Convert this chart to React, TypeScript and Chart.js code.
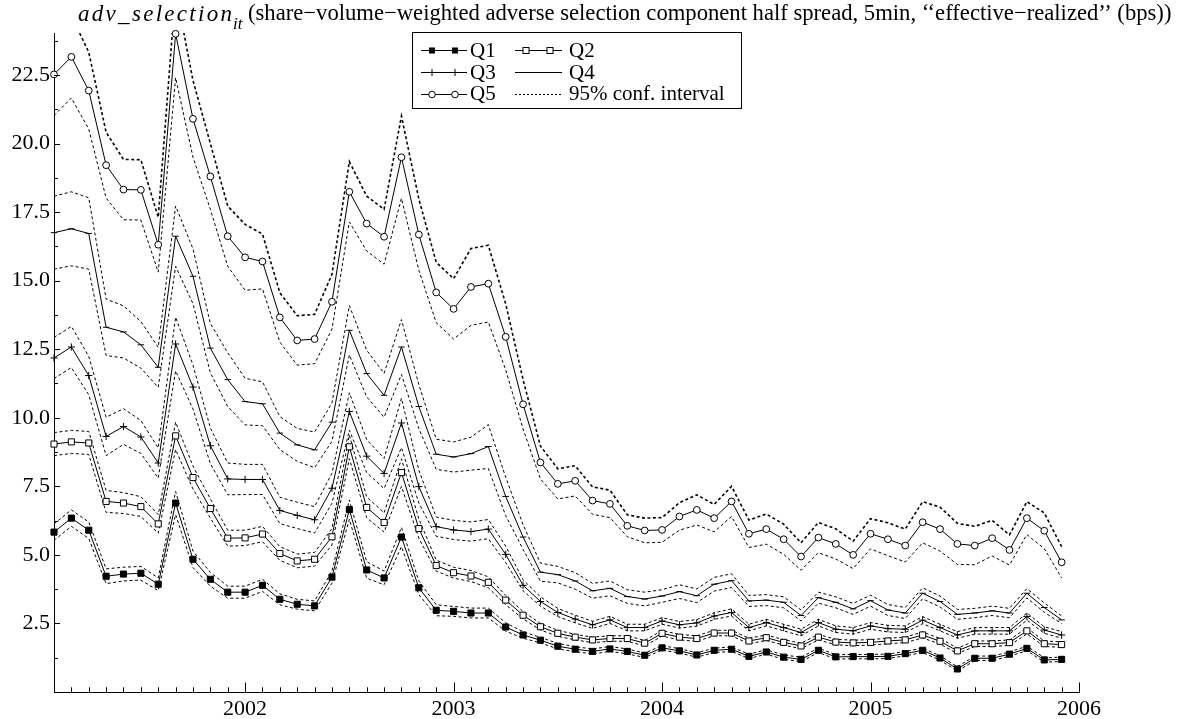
import React, { useEffect, useRef } from 'react';
import { Chart, registerables } from 'chart.js';

Chart.register(...registerables);

// Monthly categories, Feb 2001 .. Jan 2006 (last one carries no data, it ends the axis)
const months = [
  '2001-02','2001-03','2001-04','2001-05','2001-06','2001-07','2001-08','2001-09','2001-10','2001-11','2001-12',
  '2002-01','2002-02','2002-03','2002-04','2002-05','2002-06','2002-07','2002-08','2002-09','2002-10','2002-11','2002-12',
  '2003-01','2003-02','2003-03','2003-04','2003-05','2003-06','2003-07','2003-08','2003-09','2003-10','2003-11','2003-12',
  '2004-01','2004-02','2004-03','2004-04','2004-05','2004-06','2004-07','2004-08','2004-09','2004-10','2004-11','2004-12',
  '2005-01','2005-02','2005-03','2005-04','2005-05','2005-06','2005-07','2005-08','2005-09','2005-10','2005-11','2005-12',
  '2006-01',
];

const q1 = [5.83,6.34,5.90,4.22,4.30,4.33,3.93,6.89,4.84,4.11,3.64,3.64,3.89,3.38,3.20,3.14,4.19,6.65,4.45,4.16,5.65,3.80,2.98,2.94,2.88,2.88,2.37,2.08,1.89,1.67,1.56,1.48,1.57,1.48,1.34,1.61,1.50,1.35,1.52,1.56,1.30,1.46,1.27,1.19,1.52,1.28,1.29,1.29,1.30,1.40,1.52,1.24,0.84,1.23,1.23,1.38,1.59,1.17,1.19];
const q2 = [9.04,9.12,9.08,6.95,6.89,6.76,6.13,9.34,7.82,6.69,5.61,5.62,5.76,5.05,4.78,4.84,5.66,8.94,6.73,6.18,8.00,5.96,4.61,4.35,4.23,4.00,3.35,2.80,2.38,2.14,2.00,1.90,1.95,1.95,1.78,2.14,2.00,1.95,2.15,2.15,1.86,1.98,1.81,1.68,2.00,1.82,1.79,1.81,1.86,1.90,2.08,1.85,1.50,1.76,1.76,1.80,2.23,1.76,1.73];
const q3 = [12.18,12.58,11.54,9.32,9.68,9.30,8.35,12.69,11.12,8.98,7.77,7.75,7.75,6.62,6.44,6.28,7.43,10.23,8.60,7.97,9.81,7.49,6.03,5.91,5.85,5.94,5.02,3.89,3.30,2.90,2.66,2.45,2.63,2.35,2.35,2.59,2.45,2.52,2.77,2.90,2.35,2.53,2.35,2.17,2.53,2.29,2.23,2.41,2.31,2.29,2.62,2.35,2.08,2.23,2.23,2.23,2.75,2.26,2.08];
const q4 = [16.75,16.89,16.72,13.30,13.13,12.66,11.84,16.62,15.16,12.54,11.39,10.59,10.51,9.44,9.01,8.83,9.84,13.19,11.61,10.82,12.58,10.41,8.67,8.57,8.69,8.95,7.13,5.65,4.37,4.28,4.05,3.69,3.78,3.48,3.39,3.50,3.66,3.51,3.93,4.06,3.32,3.35,3.27,2.79,3.44,3.27,3.03,3.33,2.99,2.88,3.60,3.30,2.83,2.88,2.96,2.88,3.60,3.08,2.63];
const q5 = [22.52,23.16,21.93,19.21,18.32,18.31,16.31,24.00,20.90,18.80,16.62,15.85,15.70,13.66,12.82,12.87,14.23,18.24,17.08,16.60,19.50,16.68,14.57,13.97,14.77,14.89,12.95,10.49,8.37,7.59,7.70,6.98,6.86,6.06,5.89,5.91,6.40,6.64,6.34,6.95,5.77,5.94,5.57,4.94,5.63,5.40,5.00,5.77,5.57,5.34,6.19,5.94,5.40,5.34,5.61,5.18,6.34,5.88,4.73];

// Half widths of the 95% confidence interval
const q1Half = [0.30,0.30,0.30,0.27,0.25,0.25,0.23,0.42,0.30,0.25,0.22,0.22,0.22,0.20,0.18,0.18,0.22,0.35,0.30,0.25,0.35,0.25,0.20,0.18,0.18,0.18,0.15,0.12,0.10,0.10,0.09,0.09,0.09,0.09,0.08,0.08,0.08,0.08,0.08,0.08,0.08,0.08,0.08,0.08,0.08,0.08,0.08,0.08,0.08,0.08,0.08,0.08,0.08,0.08,0.08,0.08,0.08,0.08,0.08];
const q2Half = [0.42,0.42,0.42,0.40,0.38,0.36,0.34,0.50,0.42,0.35,0.29,0.28,0.28,0.25,0.25,0.25,0.30,0.43,0.38,0.35,0.50,0.35,0.20,0.20,0.20,0.20,0.17,0.13,0.12,0.11,0.10,0.10,0.10,0.10,0.10,0.10,0.10,0.10,0.10,0.10,0.10,0.10,0.10,0.10,0.10,0.10,0.10,0.10,0.10,0.10,0.11,0.10,0.10,0.10,0.10,0.10,0.11,0.10,0.10];
const q3Half = [0.75,0.75,0.70,0.70,0.65,0.60,0.55,0.98,0.80,0.65,0.58,0.55,0.55,0.48,0.48,0.48,0.55,0.68,0.60,0.55,0.90,0.60,0.35,0.35,0.35,0.35,0.30,0.20,0.17,0.15,0.14,0.13,0.13,0.12,0.12,0.12,0.12,0.12,0.12,0.13,0.12,0.12,0.12,0.12,0.12,0.12,0.12,0.12,0.12,0.12,0.13,0.12,0.12,0.12,0.12,0.12,0.13,0.12,0.12];
const q4Half = [1.33,1.35,1.30,1.03,0.95,0.85,0.73,1.10,1.00,0.90,0.98,0.85,0.80,0.60,0.60,0.65,0.70,0.90,0.85,0.80,1.00,0.80,0.55,0.55,0.60,0.80,0.70,0.45,0.33,0.30,0.30,0.27,0.27,0.25,0.25,0.23,0.25,0.25,0.25,0.25,0.20,0.20,0.20,0.20,0.20,0.20,0.20,0.20,0.20,0.20,0.20,0.20,0.18,0.17,0.17,0.17,0.17,0.17,0.14];
const q5Half = [1.50,1.50,1.40,1.20,1.10,1.10,1.00,1.60,1.40,1.20,1.10,1.20,1.00,0.90,0.90,0.90,1.00,1.10,1.00,1.00,1.50,1.30,1.10,1.10,1.40,1.40,1.20,0.90,0.60,0.55,0.55,0.50,0.50,0.40,0.45,0.45,0.50,0.55,0.50,0.55,0.50,0.55,0.55,0.50,0.55,0.55,0.50,0.55,0.60,0.60,0.75,0.80,0.75,0.70,0.65,0.55,0.60,0.65,0.57];

const seriesNames = ['Q1', 'Q2', 'Q3', 'Q4', 'Q5'];
const ciLabel = '95% conf. interval';
const titleItalic = 'adv_selection';
const titleSub = 'it';
const titleRest = '(share\u2212volume\u2212weighted adverse selection component half spread, 5min, \u2018\u2018effective\u2212realized\u2019\u2019 (bps))';

const yMin = 0;
const yMax = 24.03;
const yStep = 2.5;

const SERIF = '"Liberation Serif", "Times New Roman", Times, serif';

function drawMarker(ctx: CanvasRenderingContext2D, kind: string, x: number, y: number) {
  ctx.save();
  ctx.strokeStyle = '#000';
  ctx.lineWidth = 1;
  ctx.setLineDash([]);
  if (kind === 'sqFill') {
    ctx.fillStyle = '#000';
    ctx.fillRect(x - 3, y - 3, 6, 6);
  } else if (kind === 'sqOpen') {
    ctx.fillStyle = '#fff';
    ctx.fillRect(x - 3, y - 3, 6, 6);
    ctx.strokeRect(x - 3, y - 3, 6, 6);
  } else if (kind === 'plus') {
    ctx.beginPath();
    ctx.moveTo(x - 3.5, y); ctx.lineTo(x + 3.5, y);
    ctx.moveTo(x, y - 3.5); ctx.lineTo(x, y + 3.5);
    ctx.stroke();
  } else if (kind === 'circle') {
    ctx.fillStyle = '#fff';
    ctx.beginPath();
    ctx.arc(x, y, 3.3, 0, Math.PI * 2);
    ctx.fill();
    ctx.stroke();
  }
  ctx.restore();
}

const decorPlugin = {
  id: 'decor',
  afterDraw(chart: any) {
    const ctx: CanvasRenderingContext2D = chart.ctx;
    const xs = chart.scales.x;
    const ys = chart.scales.y;
    const area = chart.chartArea;
    ctx.save();
    ctx.strokeStyle = '#000';
    ctx.lineWidth = 1;
    ctx.setLineDash([]);
    // inward x ticks
    ctx.beginPath();
    xs.ticks.forEach((_t: any, i: number) => {
      const px = Math.round(xs.getPixelForTick(i)) + 0.5;
      const major = months[i].endsWith('-01');
      ctx.moveTo(px, area.bottom);
      ctx.lineTo(px, area.bottom - (major ? 9.5 : 4.7));
    });
    // inward y ticks (major + one minor between)
    ys.ticks.forEach((t: any) => {
      const v = t.value;
      if (v > yMin) {
        const py = Math.round(ys.getPixelForValue(v)) + 0.5;
        ctx.moveTo(area.left, py);
        ctx.lineTo(area.left + 6, py);
      }
      const m = v + yStep / 2;
      if (m < yMax) {
        const pm = Math.round(ys.getPixelForValue(m)) + 0.5;
        ctx.moveTo(area.left, pm);
        ctx.lineTo(area.left + 4, pm);
      }
    });
    ctx.stroke();

    // title
    ctx.fillStyle = '#000';
    ctx.textBaseline = 'alphabetic';
    ctx.textAlign = 'left';
    ctx.font = `italic 23px ${SERIF}`;
    const chars = titleItalic.split('');
    const plain = chars.reduce((s, c) => s + ctx.measureText(c).width, 0);
    const itStart = 78;
    const itEnd = 232;
    const gap = (itEnd - itStart - plain) / (chars.length - 1);
    let x = itStart;
    chars.forEach((c) => {
      ctx.fillText(c, x, 21);
      x += ctx.measureText(c).width + gap;
    });
    ctx.font = `italic 17px ${SERIF}`;
    ctx.fillText(titleSub, 233, 29);
    ctx.font = `20px ${SERIF}`;
    const restW = ctx.measureText(titleRest).width;
    const size = 20 * (1172 - 248) / restW;
    ctx.font = `${size.toFixed(2)}px ${SERIF}`;
    ctx.fillText(titleRest, 248, 20);

    // legend box
    ctx.fillStyle = '#fff';
    ctx.fillRect(412.5, 32.5, 329, 76);
    ctx.strokeStyle = '#000';
    ctx.strokeRect(412.5, 32.5, 329, 76);
    const rows = [50, 72, 93.5];
    const cols = [{ x0: 421, x1: 467, tx: 470 }, { x0: 515, x1: 562, tx: 569 }];
    const entries = [
      { label: seriesNames[0], marker: 'sqFill', dash: false },
      { label: seriesNames[1], marker: 'sqOpen', dash: false },
      { label: seriesNames[2], marker: 'plus', dash: false },
      { label: seriesNames[3], marker: 'none', dash: false },
      { label: seriesNames[4], marker: 'circle', dash: false },
      { label: ciLabel, marker: 'none', dash: true },
    ];
    ctx.font = `21px ${SERIF}`;
    ctx.textBaseline = 'middle';
    entries.forEach((e, k) => {
      const col = cols[k % 2];
      const y = rows[Math.floor(k / 2)];
      ctx.save();
      ctx.strokeStyle = '#000';
      ctx.lineWidth = 1;
      ctx.setLineDash(e.dash ? [2, 2] : []);
      ctx.beginPath();
      ctx.moveTo(col.x0, Math.round(y) + 0.5);
      ctx.lineTo(col.x1, Math.round(y) + 0.5);
      ctx.stroke();
      ctx.restore();
      if (e.marker !== 'none') {
        drawMarker(ctx, e.marker, col.x0 + 11, Math.round(y) + 0.5);
        drawMarker(ctx, e.marker, col.x1 - 12, Math.round(y) + 0.5);
      }
      ctx.fillStyle = '#000';
      ctx.fillText(e.label, col.tx, y + 1);
    });
    ctx.restore();
  },
};

export default function App() {
  const ref = useRef<HTMLCanvasElement>(null);
  useEffect(() => {
    const canvas = ref.current;
    if (!canvas) return;
    const values = [q1, q2, q3, q4, q5];
    const halves = [q1Half, q2Half, q3Half, q4Half, q5Half];
    const styles: any[] = [
      { pointStyle: 'rect', radius: 4.3, bg: '#000' },
      { pointStyle: 'rect', radius: 4.3, bg: '#fff' },
      { pointStyle: 'cross', radius: 3.6, bg: '#000' },
      { pointStyle: 'line', radius: 3.2, bg: '#000' },
      { pointStyle: 'circle', radius: 3.4, bg: '#fff' },
    ];
    const datasets: any[] = [];
    values.forEach((vals, k) => {
      datasets.push({
        label: seriesNames[k],
        data: vals,
        borderColor: '#000',
        borderWidth: 1,
        pointStyle: styles[k].pointStyle,
        pointRadius: styles[k].radius,
        pointBackgroundColor: styles[k].bg,
        pointBorderColor: '#000',
        pointBorderWidth: 1,
        tension: 0,
        fill: false,
        clip: k === 4 ? false : undefined,
      });
    });
    values.forEach((vals, k) => {
      const hw = halves[k];
      const upper = vals.map((v, i) => Math.round((v + hw[i]) * 1000) / 1000);
      const lower = vals.map((v, i) => Math.round((v - hw[i]) * 1000) / 1000);
      [upper, lower].forEach((band, b) => {
        datasets.push({
          label: `${seriesNames[k]} ${b === 0 ? 'upper' : 'lower'} ${ciLabel}`,
          data: band,
          borderColor: '#000',
          borderWidth: k === 4 && b === 0 ? 1.6 : 1,
          borderDash: [3, 2.5],
          pointRadius: 0,
          tension: 0,
          fill: false,
        });
      });
    });

    const chart = new Chart(canvas, {
      type: 'line',
      data: { labels: months, datasets },
      options: {
        animation: false,
        responsive: false,
        devicePixelRatio: 1,
        layout: { padding: { top: 33, right: 101, left: 0, bottom: 0 } },
        plugins: { legend: { display: false }, tooltip: { enabled: false }, title: { display: false } },
        scales: {
          x: {
            type: 'category',
            offset: false,
            grid: { display: false, drawTicks: false },
            border: { display: true, color: '#000', width: 1 },
            ticks: {
              autoSkip: false,
              maxRotation: 0,
              minRotation: 0,
              padding: 4,
              color: '#000',
              font: { family: SERIF, size: 22 },
              callback: (_v: any, i: number) => (months[i].endsWith('-01') ? months[i].slice(0, 4) : ''),
            },
            afterFit: (s: any) => { s.height = 27; },
          },
          y: {
            type: 'linear',
            min: yMin,
            max: yMax,
            grid: { display: false, drawTicks: false },
            border: { display: true, color: '#000', width: 1 },
            ticks: {
              stepSize: yStep,
              includeBounds: false,
              padding: 4,
              color: '#000',
              font: { family: SERIF, size: 22 },
              callback: (v: any) => (Number(v) === 0 ? '' : Number(v).toFixed(1)),
            },
            afterFit: (s: any) => { s.width = 54; },
          },
        },
      },
      plugins: [decorPlugin],
    });
    return () => chart.destroy();
  }, []);

  return (
    <div style={{ position: 'absolute', left: 0, top: 0, width: 1180, height: 719, background: '#fff' }}>
      <canvas ref={ref} width={1180} height={719} style={{ display: 'block' }} />
    </div>
  );
}
